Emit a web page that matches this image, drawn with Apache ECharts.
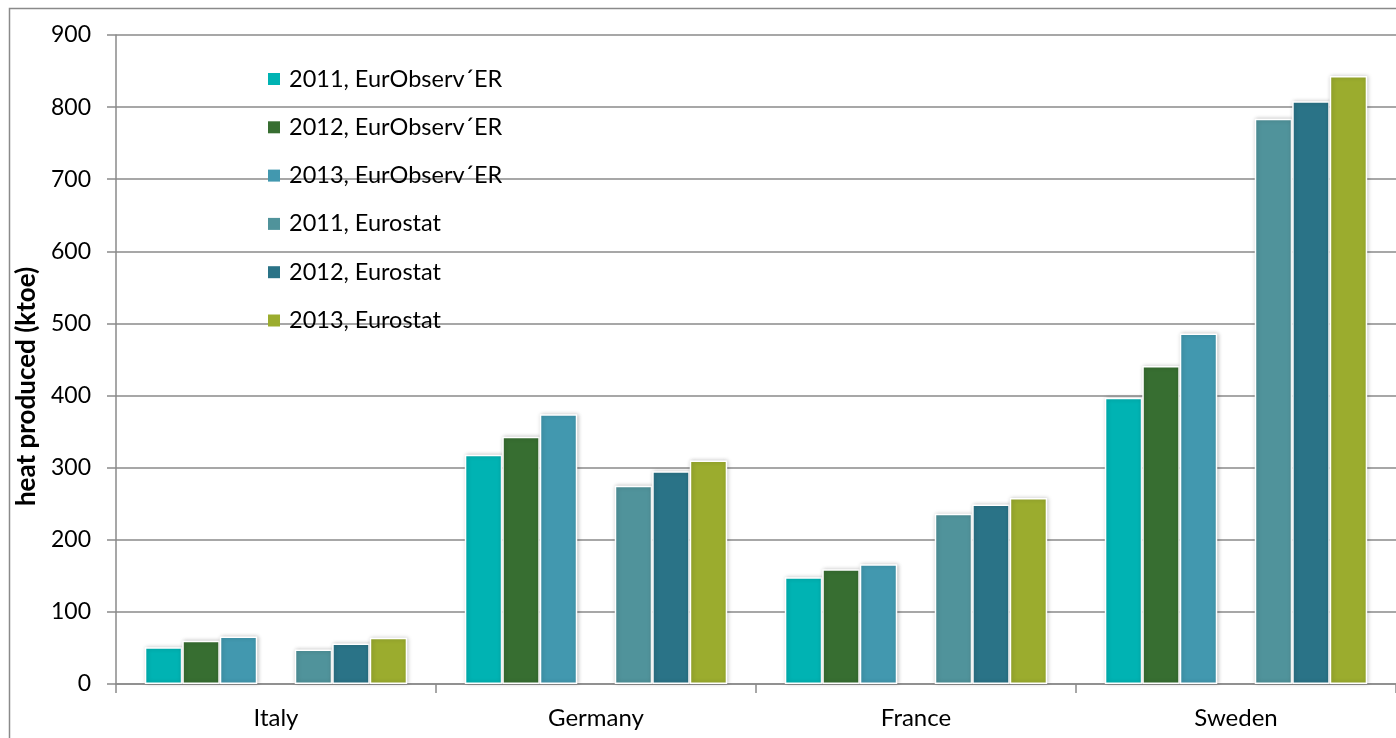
<!DOCTYPE html>
<html>
<head>
<meta charset="utf-8">
<style>
  html, body { margin: 0; padding: 0; background: #fff; }
  #chart { width: 1396px; height: 738px; }
</style>
<script src="https://cdn.jsdelivr.net/npm/echarts@6/dist/echarts.min.js"></script>
</head>
<body>
<div id="chart"></div>
<script>
// Heat produced per country (ktoe), two sources, three years each
const countries = ['Italy', 'Germany', 'France', 'Sweden'];
const yTicks = { min: 0, max: 900, step: 100 };

const eo2011 = [51, 318, 148, 397];
const eo2012 = [60, 343, 159, 441];
const eo2013 = [66, 374, 166, 486];
const es2011 = [48, 275, 236, 784];
const es2012 = [56, 295, 249, 808];
const es2013 = [64, 310, 258, 843];

const seriesNames = [
  '2011, EurObserv\u00b4ER',
  '2012, EurObserv\u00b4ER',
  '2013, EurObserv\u00b4ER',
  '2011, Eurostat',
  '2012, Eurostat',
  '2013, Eurostat'
];
const seriesColors = ['#00B3B3', '#376E31', '#4298AF', '#50939B', '#2A7387', '#9BAC2E'];
const seriesValues = [eo2011, eo2012, eo2013, es2011, es2012, es2013];

const FONT = 'Lato, "Open Sans", sans-serif';
const GRAY = '#8a8a8a';

function barSeries(i) {
  return {
    name: seriesNames[i],
    type: 'bar',
    data: seriesValues[i],
    barGap: '0%',
    barCategoryGap: '18%',
    itemStyle: {
      color: seriesColors[i],
      borderColor: '#ffffff',
      borderWidth: 1.5,
      shadowColor: 'rgba(0,0,0,0.22)',
      shadowBlur: 4,
      shadowOffsetX: 1,
      shadowOffsetY: 0
    },
    emphasis: { disabled: true }
  };
}

// an empty slot separates the EurObserv'ER bars from the Eurostat bars
const spacer = { name: 'gap', type: 'bar', data: [], barGap: '0%', barCategoryGap: '18%' };

const series = [barSeries(0), barSeries(1), barSeries(2), spacer, barSeries(3), barSeries(4), barSeries(5)];

const chart = echarts.init(document.getElementById('chart'), null, { renderer: 'canvas' });
chart.setOption({
  animation: false,
  backgroundColor: '#ffffff',
  textStyle: { fontFamily: FONT },
  graphic: [{
    type: 'rect',
    shape: { x: 9.5, y: 8.5, width: 1400, height: 740 },
    style: { fill: 'none', stroke: GRAY, lineWidth: 1.5 },
    silent: true,
    z: 0
  }],
  grid: { left: 116, right: 0, top: 35, bottom: 54, containLabel: false },
  legend: {
    data: seriesNames,
    orient: 'vertical',
    left: 263,
    top: 62,
    itemWidth: 12,
    itemHeight: 12,
    itemGap: 24.3,
    icon: 'rect',
    itemStyle: { borderWidth: 0, shadowBlur: 0 },
    textStyle: { fontFamily: FONT, fontSize: 23.5, color: '#000', padding: [0, 0, 0, 4] },
    selectedMode: false
  },
  xAxis: {
    type: 'category',
    data: countries,
    axisLine: { lineStyle: { color: GRAY, width: 1.5 } },
    axisTick: { show: true, length: 9, lineStyle: { color: GRAY, width: 1.5 } },
    axisLabel: { fontFamily: FONT, fontSize: 24, color: '#000', margin: 22 }
  },
  yAxis: {
    type: 'value',
    min: yTicks.min,
    max: yTicks.max,
    interval: yTicks.step,
    name: 'heat produced (ktoe)',
    nameLocation: 'middle',
    nameGap: 66,
    nameTextStyle: { fontFamily: FONT, fontSize: 26, fontWeight: 'bold', color: '#000', padding: [0, 54, 0, 0] },
    axisLine: { show: true, lineStyle: { color: GRAY, width: 1.5 } },
    axisTick: { show: true, length: 9, lineStyle: { color: GRAY, width: 1.5 } },
    axisLabel: { fontFamily: FONT, fontSize: 23, color: '#000', margin: 25 },
    splitLine: { lineStyle: { color: GRAY, width: 1.5 } }
  },
  series: series
});
</script>
</body>
</html>
